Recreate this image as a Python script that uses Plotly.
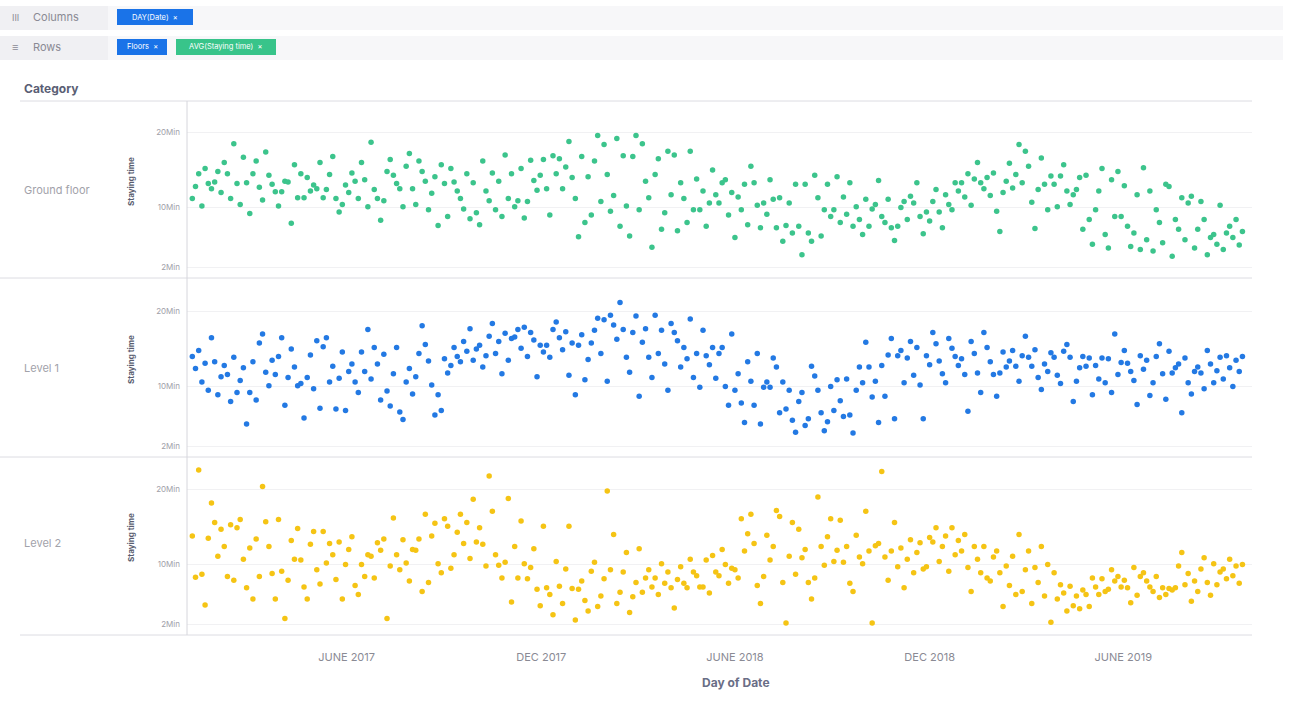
import pandas as pd
import plotly.graph_objects as go
from plotly.subplots import make_subplots

# ---------------- data ----------------
dates = pd.date_range("2017-01-07", periods=330, freq="3D")

ground_floor = [
    11.2,12.8,14.5,10.2,15.2,13.2,12.5,13.4,14.8,12.0,
    16.0,14.5,11.2,18.5,13.2,10.4,16.7,13.3,9.2,14.5,
    16.2,12.7,11.0,17.4,14.3,13.1,12.1,10.2,12.1,13.5,
    13.4,7.9,15.7,11.3,14.5,11.3,14.0,12.2,13.0,12.5,
    16.0,11.3,12.4,14.4,16.8,11.2,9.4,10.4,13.0,12.0,
    14.6,13.5,11.2,16.0,13.7,10.1,18.7,12.4,11.2,8.3,
    10.9,14.8,16.4,14.3,13.2,12.5,10.1,15.5,17.2,12.5,
    10.4,16.2,14.8,13.5,9.7,11.9,14.1,7.6,15.7,13.2,
    8.8,15.2,13.4,12.2,11.2,9.8,14.5,8.5,13.3,9.3,
    7.7,16.2,12.2,10.9,14.6,9.7,13.5,8.8,17.0,11.2,
    14.5,10.1,10.9,15.2,8.6,10.8,16.3,13.6,12.3,14.3,
    16.4,12.5,9.0,16.9,14.5,16.5,12.5,15.4,18.8,14.0,
    11.2,6.1,16.8,8.0,14.1,9.0,16.2,19.6,10.8,18.4,
    14.4,9.5,11.6,19.2,7.5,16.9,10.2,6.2,16.8,19.6,
    9.7,18.5,13.5,11.3,4.7,14.4,16.5,7.1,9.3,17.5,
    11.7,17.0,6.9,13.3,11.2,8.0,17.5,9.7,13.8,9.7,
    12.2,7.5,10.6,15.0,11.7,10.6,13.3,13.7,9.0,12.0,
    6.0,11.4,9.7,13.1,7.7,15.5,13.3,10.3,7.3,10.6,
    9.1,13.7,11.1,7.3,11.3,5.5,7.6,10.6,6.6,13.1,
    7.5,3.7,13.1,6.6,5.5,14.3,11.3,6.2,9.7,13.1,
    8.8,9.7,14.1,8.0,11.4,9.1,13.3,7.5,10.1,8.4,
    6.4,11.1,7.5,9.8,10.4,13.6,8.8,8.0,11.1,7.3,
    5.6,7.5,10.0,10.8,8.4,11.5,10.6,13.3,8.8,6.5,
    9.4,8.2,10.8,12.4,9.4,7.3,11.7,10.4,9.7,13.3,
    12.2,13.3,11.4,14.5,10.3,13.8,16.0,13.3,12.5,14.0,
    11.6,14.6,9.5,6.8,12.0,13.5,15.9,12.6,14.4,18.4,
    13.3,17.5,15.5,10.7,7.2,12.4,16.6,13.1,9.7,14.2,
    13.1,10.1,14.2,15.7,12.2,10.4,11.7,12.4,14.0,7.1,
    14.3,8.4,5.1,9.7,12.2,15.2,6.4,4.6,13.7,8.8,
    14.8,8.8,12.9,7.5,4.8,6.6,11.7,4.4,15.3,5.7,
    12.2,4.2,9.7,8.0,5.3,13.1,12.8,3.5,8.4,7.1,
    11.3,5.7,10.6,11.5,4.6,7.1,10.8,8.4,3.7,6.0,
    6.4,5.1,10.3,4.4,6.6,7.5,6.0,8.4,5.0,6.8,
]

level_1 = [
    14.0,12.4,14.8,10.6,13.1,9.5,16.5,13.3,8.9,11.3,
    12.8,11.6,8.0,13.9,9.2,10.8,12.5,5.0,9.2,13.3,
    8.2,15.8,17.0,11.9,10.1,13.5,11.6,14.0,16.5,7.5,
    11.2,15.0,12.6,10.1,10.4,5.8,11.2,14.2,9.7,16.1,
    7.1,15.3,16.5,10.6,12.7,7.0,11.1,14.6,6.8,12.0,
    13.0,10.6,9.2,14.6,12.0,17.6,11.0,15.2,13.0,8.2,
    14.3,9.4,7.4,11.7,15.2,6.6,5.6,10.6,12.4,9.0,
    11.3,14.4,18.1,15.6,13.4,10.2,6.2,8.9,6.8,13.7,
    11.8,12.8,15.2,14.0,13.3,16.0,14.7,17.7,13.5,15.0,
    15.5,12.6,14.1,16.7,18.4,14.4,16.0,11.7,17.1,13.5,
    16.4,16.6,17.6,15.1,17.9,14.0,17.2,16.2,11.3,15.5,
    14.6,15.5,13.9,17.6,18.6,16.5,14.9,17.3,11.5,15.8,
    8.9,15.5,16.9,10.9,13.6,15.8,17.5,19.1,14.4,18.9,
    10.7,19.5,18.2,16.3,21.2,17.6,13.9,11.9,17.2,19.4,
    8.7,15.9,17.7,13.9,11.2,19.5,14.4,17.5,13.0,9.5,
    18.4,17.2,16.1,12.6,15.2,13.7,19.0,11.2,14.4,9.9,
    17.5,14.1,12.9,15.2,11.1,14.4,15.2,10.0,7.5,17.0,
    9.5,11.7,7.8,5.2,13.3,10.7,7.5,14.4,5.0,9.9,
    10.6,9.9,13.8,12.6,6.5,10.6,7.0,9.5,5.5,3.9,
    8.0,9.2,4.8,5.7,12.7,11.4,9.5,6.5,4.1,5.3,
    10.0,6.8,10.9,8.1,6.0,11.0,6.2,3.8,9.5,12.6,
    10.5,15.9,12.6,8.6,10.7,5.2,12.8,8.7,14.2,16.4,
    5.7,14.1,14.8,10.5,13.8,16.0,11.5,15.2,10.2,5.7,
    14.1,12.9,17.2,15.7,13.4,11.7,10.5,16.4,15.1,14.0,
    12.8,13.7,11.6,6.7,16.0,14.4,11.8,9.2,17.2,15.2,
    13.3,11.6,8.7,11.8,14.6,12.6,13.4,14.8,12.7,10.7,
    14.1,16.7,13.9,12.7,14.9,11.2,9.6,13.0,12.0,14.5,
    13.9,11.5,10.4,14.7,15.6,13.9,8.0,10.7,12.5,14.0,
    12.7,13.8,8.9,12.8,11.0,13.8,10.5,13.7,9.2,17.0,
    11.6,13.2,14.8,13.1,12.0,10.8,7.6,14.1,12.3,13.5,
    8.8,10.5,14.0,15.7,11.7,8.3,14.7,11.8,12.5,13.0,
    6.5,13.8,10.5,9.0,12.0,12.6,11.8,9.7,14.8,13.0,
    10.5,12.1,13.9,11.0,14.1,12.5,10.0,13.5,12.0,14.0,
]

level_2 = [
    13.8,8.3,22.6,8.7,4.6,13.5,18.2,15.6,11.1,14.7,
    12.4,8.4,15.3,7.9,14.9,16.0,10.7,6.9,12.2,5.4,
    13.4,8.4,20.4,15.7,12.4,8.8,5.4,16.0,9.1,2.8,
    7.9,13.2,10.7,14.8,10.6,7.0,5.4,12.7,14.4,9.3,
    7.4,14.4,10.2,12.8,11.3,8.0,13.0,5.4,10.0,12.0,
    13.7,7.2,6.0,10.0,8.4,11.3,11.1,8.2,12.9,11.9,
    13.4,2.8,9.8,16.2,11.3,9.3,13.3,10.2,7.8,12.0,
    11.9,13.4,6.4,16.7,7.6,13.8,15.5,10.1,8.9,16.1,
    15.1,9.5,11.3,14.3,16.7,12.8,15.6,10.8,18.7,13.0,
    14.9,12.7,9.8,21.8,17.1,11.3,9.9,8.2,10.3,18.8,
    5.0,12.4,8.2,15.8,10.1,8.1,9.6,12.1,6.7,4.5,
    15.1,6.9,6.0,3.3,10.4,7.1,4.8,9.4,15.1,6.8,
    2.6,6.7,7.8,5.2,3.8,9.1,10.3,4.4,5.8,8.1,
    19.8,9.3,14.0,4.8,6.3,9.0,11.6,3.6,5.7,7.6,
    12.1,6.3,8.2,9.3,7.0,8.2,6.0,10.1,7.5,9.0,
    6.9,4.2,8.0,9.7,7.5,6.9,10.7,9.0,8.5,7.0,
    7.0,10.6,6.2,11.2,9.0,8.5,12.0,10.0,7.5,9.5,
    9.3,8.2,16.1,11.8,14.1,16.7,12.8,7.2,4.8,8.4,
    13.9,10.6,12.4,17.2,16.4,7.6,2.2,11.1,15.6,8.7,
    14.7,10.9,12.0,7.6,5.4,8.2,19.0,12.4,9.9,13.7,
    16.1,10.4,11.9,15.9,10.3,12.4,7.5,6.4,13.9,11.0,
    10.1,17.1,11.8,2.2,12.5,12.8,22.4,11.0,7.9,11.8,
    15.6,9.7,12.2,6.9,10.7,13.3,8.9,11.6,12.9,9.4,
    9.7,13.6,13.0,14.9,10.4,12.4,13.8,9.1,14.9,11.3,
    13.2,11.8,14.0,9.6,6.4,12.4,10.7,8.9,12.4,8.2,
    7.8,11.0,11.8,8.9,4.4,9.8,7.2,11.1,6.0,14.0,
    6.4,9.3,11.8,4.8,9.6,7.6,12.4,5.8,10.0,2.3,
    8.9,5.4,7.3,6.2,3.8,7.1,4.5,5.8,4.1,6.6,
    6.0,4.4,8.2,7.0,6.0,8.1,6.4,6.7,9.3,7.8,
    8.4,7.0,7.9,6.9,4.9,9.6,5.9,8.4,8.9,7.8,
    7.0,6.4,8.4,5.6,6.9,6.0,6.8,6.6,6.9,9.8,
    11.6,7.3,8.8,5.1,7.8,6.4,9.4,10.9,7.6,5.9,
    10.1,7.3,9.0,9.4,8.1,10.7,8.5,9.8,7.5,10.0,
]

categories = ["Ground floor", "Level 1", "Level 2"]
series = [ground_floor, level_1, level_2]
colors = ["#3cc48c", "#2379e3", "#f5c414"]

y_tickvals = [2, 10, 20]
y_ticktext = ["2Min", "10Min", "20Min"]
x_tickvals = ["2017-06-01", "2017-12-01", "2018-06-01", "2018-12-01", "2019-06-01"]
x_ticktext = ["JUNE 2017", "DEC 2017", "JUNE 2018", "DEC 2018", "JUNE 2019"]

# ---------------- layout helpers ----------------
W, H = 1292, 702
L, R, T, B = 187, 1252, 101, 635
def px(x):
    return (x - L) / (R - L)
def py(y):
    return (B - y) / (B - T)

FONT = "Inter, Noto Sans, sans-serif"

fig = make_subplots(rows=3, cols=1, shared_xaxes=True, vertical_spacing=0.005)

for i, (vals, col) in enumerate(zip(series, colors)):
    fig.add_trace(go.Scatter(
        x=dates, y=vals, mode="markers",
        marker=dict(size=5.5, color=col, line=dict(width=0)),
        name=categories[i], showlegend=False,
        hovertemplate="%{x|%b %d, %Y}<br>%{y:.1f} Min<extra></extra>",
    ), row=i + 1, col=1)

domains = [[py(278), 1.0], [py(457), py(280)], [0.0, py(458)]]
for i in range(3):
    key = "yaxis" if i == 0 else f"yaxis{i+1}"
    fig.layout[key].update(
        domain=domains[i], range=[0.6, 24.2],
        tickvals=y_tickvals, ticktext=y_ticktext,
        tickfont=dict(size=8, color="#a0a0a8", family=FONT),
        showgrid=True, gridcolor="#f1f1f3", gridwidth=1,
        zeroline=False, showline=False, ticks="", ticklabelstandoff=6,
        fixedrange=True,
    )
    xkey = "xaxis" if i == 0 else f"xaxis{i+1}"
    fig.layout[xkey].update(
        range=["2017-01-02", "2019-09-30"],
        showgrid=False, zeroline=False, showline=False,
        tickvals=x_tickvals, ticktext=x_ticktext,
        tickfont=dict(size=11, color="#8a8a94", family=FONT),
        ticks="",
    )
fig.layout.xaxis3.update(ticklabelstandoff=14)

shapes = []
# header strips
shapes.append(dict(type="rect", xref="paper", yref="paper", x0=px(0), x1=px(1283),
                   y0=py(30), y1=py(6), fillcolor="#f7f7f9", line=dict(width=0), layer="below"))
shapes.append(dict(type="rect", xref="paper", yref="paper", x0=px(0), x1=px(1283),
                   y0=py(60), y1=py(36), fillcolor="#f7f7f9", line=dict(width=0), layer="below"))
shapes.append(dict(type="rect", xref="paper", yref="paper", x0=px(0), x1=px(108),
                   y0=py(30), y1=py(6), fillcolor="#f0f0f3", line=dict(width=0), layer="below"))
shapes.append(dict(type="rect", xref="paper", yref="paper", x0=px(0), x1=px(108),
                   y0=py(60), y1=py(36), fillcolor="#f0f0f3", line=dict(width=0), layer="below"))
# chips
chips = [
    (117, 193, 9, 25, "#1a73e8", "DAY(Date)  ×"),
    (117, 167, 39, 55, "#1a73e8", "Floors  ×"),
    (176, 276, 39, 55, "#38c48a", "AVG(Staying time)  ×"),
]
for x0, x1, y0, y1, c, _ in chips:
    shapes.append(dict(type="rect", xref="paper", yref="paper", x0=px(x0), x1=px(x1),
                       y0=py(y1), y1=py(y0), fillcolor=c, line=dict(width=0)))
# separators
for yy, x0 in [(101, 20), (278, 0), (457, 0), (635, 20)]:
    shapes.append(dict(type="line", xref="paper", yref="paper", x0=px(x0), x1=1.0,
                       y0=py(yy), y1=py(yy), line=dict(color="#dcdce2", width=1)))
# left axis line
shapes.append(dict(type="line", xref="paper", yref="paper", x0=0, x1=0,
                   y0=0, y1=1, line=dict(color="#d6d6dc", width=1)))

annotations = []
annotations.append(dict(text="III", x=px(10), y=py(17), xref="paper", yref="paper",
                        xanchor="left", yanchor="middle", showarrow=False,
                        font=dict(size=9, color="#8a8a94", family=FONT)))
annotations.append(dict(text="Columns", x=px(31), y=py(17), xref="paper", yref="paper",
                        xanchor="left", yanchor="middle", showarrow=False,
                        font=dict(size=11, color="#8a8a94", family=FONT)))
annotations.append(dict(text="≡", x=px(10), y=py(47), xref="paper", yref="paper",
                        xanchor="left", yanchor="middle", showarrow=False,
                        font=dict(size=11, color="#8a8a94", family=FONT)))
annotations.append(dict(text="Rows", x=px(31), y=py(47), xref="paper", yref="paper",
                        xanchor="left", yanchor="middle", showarrow=False,
                        font=dict(size=11, color="#8a8a94", family=FONT)))
for x0, x1, y0, y1, c, t in chips:
    annotations.append(dict(text=t, x=px((x0 + x1) / 2), y=py((y0 + y1) / 2),
                            xref="paper", yref="paper", xanchor="center", yanchor="middle",
                            showarrow=False, font=dict(size=7.5, color="white", family=FONT)))
annotations.append(dict(text="<b>Category</b>", x=px(22), y=py(88), xref="paper", yref="paper",
                        xanchor="left", yanchor="middle", showarrow=False,
                        font=dict(size=12, color="#5a5e74", family=FONT)))
row_centers = [190, 368, 543]
panel_mid = [190, 368, 546]
for name, yc, ym in zip(categories, row_centers, panel_mid):
    annotations.append(dict(text=name, x=px(22), y=py(yc), xref="paper", yref="paper",
                            xanchor="left", yanchor="middle", showarrow=False,
                            font=dict(size=11, color="#a2a2aa", family=FONT)))
    annotations.append(dict(text="<b>Staying time</b>", x=px(131), y=py(ym - 8), xref="paper",
                            yref="paper", xanchor="center", yanchor="middle", textangle=-90,
                            showarrow=False, font=dict(size=8, color="#5a5e70", family=FONT)))
annotations.append(dict(text="<b>Day of Date</b>", x=px(736), y=py(682), xref="paper", yref="paper",
                        xanchor="center", yanchor="middle", showarrow=False,
                        font=dict(size=12, color="#6a6e86", family=FONT)))

fig.update_layout(
    width=W, height=H,
    margin=dict(l=L, r=W - R, t=T, b=H - B),
    paper_bgcolor="white", plot_bgcolor="white",
    shapes=shapes, annotations=annotations,
    font=dict(family=FONT),
    showlegend=False,
)

fig.write_html(
    "out.html",
    config={"displayModeBar": False},
    post_script="document.body.style.margin='0';document.body.style.padding='0';document.body.style.overflow='hidden';",
)
